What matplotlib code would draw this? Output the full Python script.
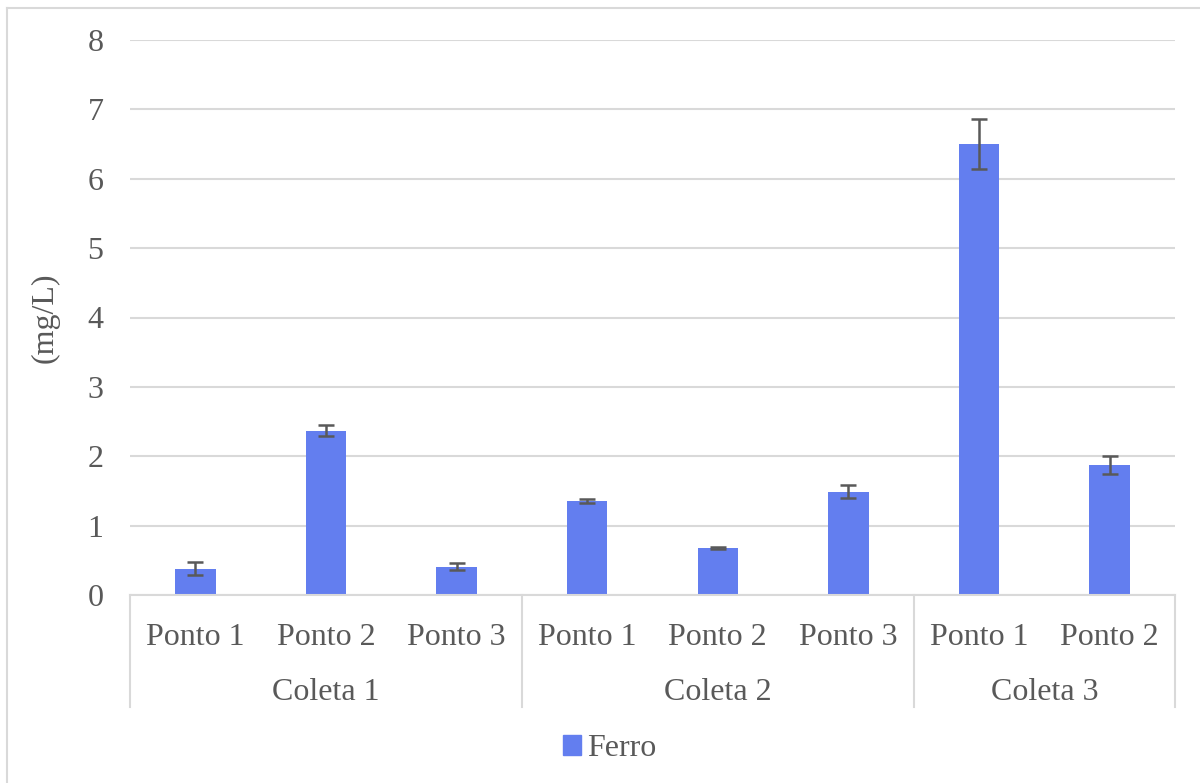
import matplotlib
matplotlib.use("Agg")
from matplotlib import pyplot as plt
from matplotlib.lines import Line2D
from matplotlib.patches import Patch

# data
coletas = ["Coleta 1", "Coleta 2", "Coleta 3"]
pontos = ["Ponto 1", "Ponto 2", "Ponto 3", "Ponto 1", "Ponto 2", "Ponto 3", "Ponto 1", "Ponto 2"]
grupo_tamanho = [3, 3, 2]
ferro = [0.38, 2.37, 0.41, 1.35, 0.68, 1.49, 6.50, 1.88]
erro = [0.09, 0.08, 0.05, 0.03, 0.01, 0.09, 0.355, 0.13]

plt.rcParams["font.family"] = ["Liberation Serif", "DejaVu Serif"]
texto = "#595959"
azul = "#637EEF"
W, H = 1200, 783
fs = 23

fig = plt.figure(figsize=(12, 7.83), dpi=100)
ax = fig.add_axes([130 / W, 1 - 595 / H, (1175 - 130) / W, (595 - 40) / H])

x = list(range(len(ferro)))
ax.bar(x, ferro, width=0.31, color=azul, zorder=2)
ax.errorbar(x, ferro, yerr=erro, fmt="none", ecolor=texto, elinewidth=1.8,
            capsize=6, capthick=1.8, zorder=3)

ax.set_xlim(-0.5, len(ferro) - 0.5)
ax.set_ylim(0, 8)
ax.set_yticks(range(0, 9))
ax.yaxis.grid(True, color="#D9D9D9", linewidth=1.5, zorder=0)
ax.set_axisbelow(True)
for s in ["top", "right", "left"]:
    ax.spines[s].set_visible(False)
ax.spines["bottom"].set_color("#D9D9D9")
ax.spines["bottom"].set_linewidth(1.5)
ax.tick_params(axis="y", length=0, pad=19, labelsize=fs, labelcolor=texto)
ax.tick_params(axis="x", length=0, pad=20, labelsize=fs, labelcolor=texto)
ax.set_xticks(x)
ax.set_xticklabels(pontos)
ax.set_ylabel("(mg/L)", fontsize=fs, color=texto)
ax.yaxis.set_label_coords(-0.067, 0.5)

# second level of the category axis
tr = ax.get_xaxis_transform()
ini = -0.5
for nome, n in zip(coletas, grupo_tamanho):
    fim = ini + n
    ax.text((ini + fim) / 2, -0.175, nome, transform=tr, ha="center", va="center",
            fontsize=fs, color=texto)
    ini = fim
bordas = [-0.5]
for n in grupo_tamanho:
    bordas.append(bordas[-1] + n)
for b in bordas:
    ax.add_line(Line2D([b, b], [0, -0.202], transform=tr, color="#D9D9D9",
                       linewidth=1.5, clip_on=False))

fig.legend(handles=[Patch(color=azul, label="Ferro")], loc="center",
           bbox_to_anchor=(610 / W, 1 - 749 / H), frameon=False, fontsize=fs,
           labelcolor=texto, handlelength=0.55, handleheight=0.6, handletextpad=0.2)

# chart frame (only left and top edges visible in the crop)
fig.add_artist(Line2D([7 / W, 7 / W], [0, 1 - 8 / H], color="#D9D9D9", linewidth=1.5))
fig.add_artist(Line2D([7 / W, 1], [1 - 8 / H, 1 - 8 / H], color="#D9D9D9", linewidth=1.5))

fig.savefig("out.png", dpi=100)
